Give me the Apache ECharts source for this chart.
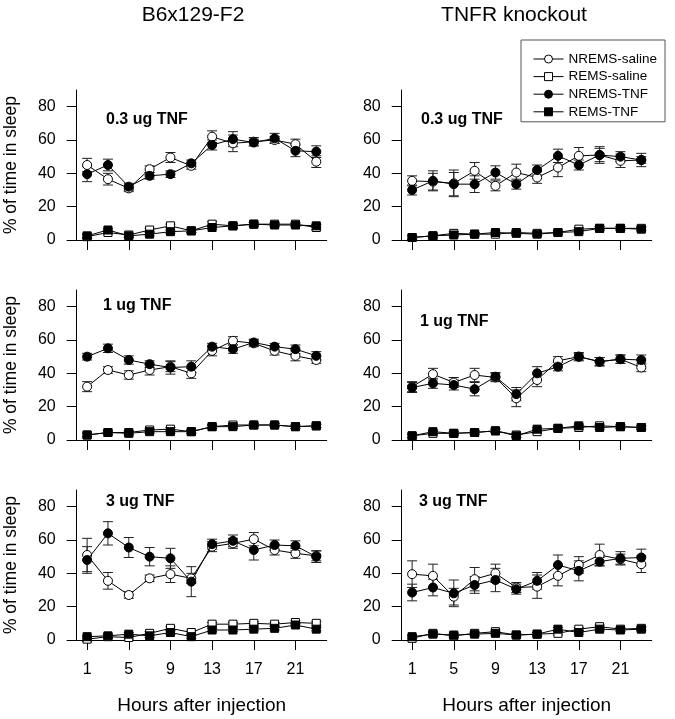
<!DOCTYPE html>
<html>
<head>
<meta charset="utf-8">
<script src="https://cdn.jsdelivr.net/npm/echarts@6/dist/echarts.min.js"></script>
<style>html,body{margin:0;padding:0;background:#fff;}#c{width:675px;height:719px;}</style>
</head>
<body>
<div id="c"></div>
<script>
// ---------- labels ----------
const hours = [1, 3, 5, 7, 9, 11, 13, 15, 17, 19, 21, 23];
const xTicks = [1, 5, 9, 13, 17, 21];
const yTicks = [0, 20, 40, 60, 80];
const seriesNames = ['NREMS-saline', 'REMS-saline', 'NREMS-TNF', 'REMS-TNF'];
const columnTitles = ['B6x129-F2', 'TNFR knockout'];
const panelLabels = ['0.3 ug TNF', '0.3 ug TNF', '1 ug TNF', '1 ug TNF', '3 ug TNF', '3 ug TNF'];
const xAxisTitle = 'Hours after injection';
const yAxisTitle = '% of time in sleep';

// ---------- Panel A: B6x129-F2, 0.3 ug ----------
const A_nremsSaline = [45, 36.5, 31, 42.5, 49.5, 44.5, 62, 58, 59, 60, 57.5, 47];
const A_nremsSalineSem = [4, 3.5, 2, 2, 3, 2, 3.5, 5, 2.5, 2, 3, 3.5];
const A_remsSaline = [2, 4.5, 3, 6, 8.5, 5.5, 9.5, 8.5, 9.5, 9.5, 9.5, 7.5];
const A_remsSalineSem = [1, 1, 1, 1, 1, 1, 1.5, 1.5, 1, 1, 1, 1.5];
const A_nremsTnf = [39.5, 45, 32, 38.5, 39.5, 46, 57, 60.5, 58.5, 61, 53.5, 53];
const A_nremsTnfSem = [4.5, 3.5, 2, 2, 2, 2, 3, 4.5, 2, 3, 3.5, 3.5];
const A_remsTnf = [2.5, 6, 2.5, 3.5, 5, 5.5, 7.5, 8.5, 9.5, 9, 9, 8.5];
const A_remsTnfSem = [1, 1, 1, 1, 1, 1, 1, 1, 1, 1, 1, 1];

// ---------- Panel B: TNFR knockout, 0.3 ug ----------
const B_nremsSaline = [35.5, 35, 34, 41.5, 32.5, 40.5, 37.5, 43.5, 50.5, 51, 47.5, 48];
const B_nremsSalineSem = [3, 5, 8, 5, 3, 5, 3.5, 5.5, 5, 4, 4, 2];
const B_remsSaline = [1.5, 2.5, 4, 3.5, 3.5, 4.5, 4, 4.5, 6.5, 7, 7, 7];
const B_remsSalineSem = [1, 1, 1, 1, 1, 1, 1, 1, 1, 1, 1, 1];
const B_nremsTnf = [30, 35.5, 33.5, 33.5, 40.5, 33.5, 42, 50.5, 45, 51, 50, 48];
const B_nremsTnfSem = [3, 6, 7, 5, 4, 3, 3, 4, 3, 5, 3, 4];
const B_remsTnf = [1.5, 2.5, 3, 3.5, 4.5, 4, 3.5, 4.5, 5, 7, 7, 6.5];
const B_remsTnfSem = [1, 1, 1, 1, 1, 1, 1, 1, 1, 1, 1, 1];

// ---------- Panel C: B6x129-F2, 1 ug ----------
const C_nremsSaline = [32, 42, 39, 42, 44, 40, 53.5, 59.5, 58, 53.5, 50.5, 48];
const C_nremsSalineSem = [3, 2, 2.5, 3, 3, 3, 3, 2.5, 2, 2.5, 3, 2];
const C_remsSaline = [3, 4.5, 4.5, 6, 6.5, 5, 8, 9, 9, 9, 8, 8.5];
const C_remsSalineSem = [1, 1, 1, 1, 1, 1, 1, 1, 1, 1, 1, 1];
const C_nremsTnf = [50, 55, 48, 45.5, 43.5, 44, 56, 54.5, 58.5, 56, 54.5, 50.5];
const C_nremsTnfSem = [2, 2.5, 2.5, 2, 4, 3.5, 2, 2.5, 2, 2, 2.5, 2.5];
const C_remsTnf = [3, 4.5, 4, 5, 5, 5, 8, 8, 9, 9, 8, 8.5];
const C_remsTnfSem = [1, 1, 1, 1, 1, 1, 1, 1, 1, 1, 1, 1];

// ---------- Panel D: TNFR knockout, 1 ug ----------
const D_nremsSaline = [32, 39.5, 34.5, 39, 37.5, 25, 36, 47.5, 50, 47, 48.5, 43.5];
const D_nremsSalineSem = [3, 3.5, 3, 4, 2.5, 5, 4, 2.5, 2, 2.5, 2.5, 2.5];
const D_remsSaline = [2.5, 4, 4, 4.5, 5.5, 3, 5, 7, 7.5, 8.5, 8, 7.5];
const D_remsSalineSem = [1, 1, 1, 1, 1, 1, 1, 1, 1, 1, 1, 1];
const D_nremsTnf = [31.5, 34, 33, 30.5, 38, 27.5, 40, 44, 50, 47, 48.5, 48];
const D_nremsTnfSem = [3, 3, 3, 4, 2.5, 4, 4, 2.5, 2.5, 2.5, 2.5, 3];
const D_remsTnf = [2.5, 5, 4, 4.5, 5.5, 2.5, 6.5, 7, 8.5, 7.5, 8, 7.5];
const D_remsTnfSem = [1, 1, 1, 1, 1, 1, 1, 1, 1, 1, 1, 1];

// ---------- Panel E: B6x129-F2, 3 ug ----------
const E_nremsSaline = [51, 35.5, 27, 37, 39.5, 37, 56, 58, 60.5, 54, 52, 50.5];
const E_nremsSalineSem = [10, 5, 2, 2, 5, 3, 3, 3, 4, 3, 3, 3];
const E_remsSaline = [0.5, 2, 1.5, 4, 7, 4.5, 9.5, 9.5, 10, 9.5, 10.5, 10];
const E_remsSalineSem = [1.5, 1, 1, 1, 1, 1, 1, 1, 1, 1, 1, 1];
const E_nremsTnf = [48, 64, 55.5, 50, 49, 35, 57.5, 59.5, 54, 57, 56.5, 50];
const E_nremsTnfSem = [8, 7, 6, 5.5, 6, 9, 3, 3.5, 6, 3, 3, 3.5];
const E_remsTnf = [2, 2.5, 3.5, 2.5, 4.5, 2, 6, 6, 6.5, 7, 9, 6.5];
const E_remsTnfSem = [1, 1, 1, 1, 1, 1, 1, 1, 1, 1, 1, 1];

// ---------- Panel F: TNFR knockout, 3 ug ----------
const F_nremsSaline = [39.5, 38.5, 26, 36.5, 40, 31.5, 32, 38.5, 45, 51, 48.5, 45.5];
const F_nremsSalineSem = [8, 7, 5, 7, 5.5, 3, 7, 6, 5, 6.5, 3, 5];
const F_remsSaline = [1, 4, 2.5, 4, 5, 3, 3.5, 4, 6.5, 8, 6.5, 7];
const F_remsSalineSem = [1.5, 1, 1, 1, 1, 1, 1, 1, 1, 1, 1, 1];
const F_nremsTnf = [28.5, 31.5, 28, 33, 36, 30.5, 35.5, 45, 41.5, 47, 49, 49.5];
const F_nremsTnfSem = [5, 5, 8, 5, 7, 3, 5, 6, 6, 2.5, 4, 5];
const F_remsTnf = [2, 3.5, 3, 3.5, 4, 3, 3.5, 6.5, 4.5, 6.5, 6, 6.5];
const F_remsTnfSem = [1, 1, 1, 1, 1, 1, 1, 1, 1, 1, 1, 1];

// ---------- build ----------
const panels = [
  { m: [A_nremsSaline, A_remsSaline, A_nremsTnf, A_remsTnf], e: [A_nremsSalineSem, A_remsSalineSem, A_nremsTnfSem, A_remsTnfSem] },
  { m: [B_nremsSaline, B_remsSaline, B_nremsTnf, B_remsTnf], e: [B_nremsSalineSem, B_remsSalineSem, B_nremsTnfSem, B_remsTnfSem] },
  { m: [C_nremsSaline, C_remsSaline, C_nremsTnf, C_remsTnf], e: [C_nremsSalineSem, C_remsSalineSem, C_nremsTnfSem, C_remsTnfSem] },
  { m: [D_nremsSaline, D_remsSaline, D_nremsTnf, D_remsTnf], e: [D_nremsSalineSem, D_remsSalineSem, D_nremsTnfSem, D_remsTnfSem] },
  { m: [E_nremsSaline, E_remsSaline, E_nremsTnf, E_remsTnf], e: [E_nremsSalineSem, E_remsSalineSem, E_nremsTnfSem, E_remsTnfSem] },
  { m: [F_nremsSaline, F_remsSaline, F_nremsTnf, F_remsTnf], e: [F_nremsSalineSem, F_remsSalineSem, F_nremsTnfSem, F_remsTnfSem] }
];

const FONT = 'Liberation Sans, Arial, Helvetica, sans-serif';
const gridLeft = [76.7, 401.7];
const labelPos = [[106, 121], [421, 121], [103, 307], [420, 323], [106, 503], [419, 503]];

const grids = [], xAxes = [], yAxes = [], series = [], graphics = [];
panels.forEach((p, i) => {
  const col = i % 2, row = Math.floor(i / 2);
  grids.push({ left: gridLeft[col], top: 90 + row * 200, width: 250, height: 150 });
  xAxes.push({
    type: 'value', gridIndex: i, min: 0, max: 24,
    axisLine: { show: true, onZero: false, lineStyle: { color: '#000', width: 1 } },
    axisTick: { show: true, customValues: xTicks, length: 10, inside: false, lineStyle: { color: '#000', width: 1 } },
    axisLabel: { show: row === 2, customValues: xTicks, margin: 22, fontSize: 16, color: '#000', fontFamily: FONT },
    splitLine: { show: false },
    name: row === 2 ? xAxisTitle : '', nameLocation: 'middle', nameGap: 56,
    nameTextStyle: { fontSize: 19, color: '#000', fontFamily: FONT }
  });
  yAxes.push({
    type: 'value', gridIndex: i, min: 0, max: 90,
    axisLine: { show: true, onZero: false, lineStyle: { color: '#000', width: 1 } },
    axisTick: { show: true, customValues: yTicks, length: 10, lineStyle: { color: '#000', width: 1 } },
    axisLabel: { show: true, customValues: yTicks, margin: 21, fontSize: 16, color: '#000', fontFamily: FONT },
    splitLine: { show: false },
    name: col === 0 ? yAxisTitle : '', nameLocation: 'middle', nameRotate: 90, nameGap: 57,
    nameTextStyle: { fontSize: 17.5, color: '#000', fontFamily: FONT }
  });
  // error bars
  const errData = [];
  p.m.forEach((arr, k) => arr.forEach((v, j) => errData.push([hours[j], v, p.e[k][j]])));
  series.push({
    type: 'custom', name: '_err' + i, xAxisIndex: i, yAxisIndex: i, silent: true, z: 1,
    encode: { x: 0, y: 1 }, data: errData, clip: false,
    renderItem: (params, api) => {
      const x = api.value(0), m = api.value(1), e = api.value(2);
      const t = api.coord([x, m + e]), b = api.coord([x, m - e]);
      const hw = 5, st = { stroke: '#222', lineWidth: 1 };
      return { type: 'group', children: [
        { type: 'line', shape: { x1: t[0], y1: t[1], x2: b[0], y2: b[1] }, style: st },
        { type: 'line', shape: { x1: t[0] - hw, y1: t[1], x2: t[0] + hw, y2: t[1] }, style: st },
        { type: 'line', shape: { x1: b[0] - hw, y1: b[1], x2: b[0] + hw, y2: b[1] }, style: st }
      ] };
    }
  });
  p.m.forEach((arr, k) => {
    const isCircle = k % 2 === 0, isOpen = k < 2;
    series.push({
      type: 'line', name: seriesNames[k], xAxisIndex: i, yAxisIndex: i, z: 3 + (isOpen ? 0 : 1),
      data: arr.map((v, j) => [hours[j], v]),
      symbol: isCircle ? 'circle' : 'rect', symbolSize: isCircle ? 9 : 8,
      itemStyle: { color: isOpen ? '#fff' : '#000', borderColor: '#000', borderWidth: 1 },
      lineStyle: { color: '#000', width: 1 },
      emphasis: { disabled: true }, silent: true
    });
  });
  graphics.push({
    type: 'text', left: labelPos[i][0], top: labelPos[i][1] - 9,
    style: { text: panelLabels[i], fontSize: 16, fontWeight: 'bold', fill: '#000', fontFamily: FONT }
  });
});
graphics.push({ type: 'text', x: 193, y: 15, style: { text: columnTitles[0], fontSize: 21, fill: '#000', fontFamily: FONT, align: 'center', verticalAlign: 'middle' } });
graphics.push({ type: 'text', x: 514, y: 15, style: { text: columnTitles[1], fontSize: 21, fill: '#000', fontFamily: FONT, align: 'center', verticalAlign: 'middle' } });

const chart = echarts.init(document.getElementById('c'), null, { renderer: 'canvas' });
chart.setOption({
  backgroundColor: '#fff',
  animation: false,
  textStyle: { fontFamily: FONT },
  grid: grids, xAxis: xAxes, yAxis: yAxes, series: series, graphic: graphics,
  legend: {
    data: seriesNames, orient: 'vertical', left: 521, top: 40,
    padding: [12, 8, 3, 12], itemGap: 3.6, itemWidth: 30, itemHeight: 10,
    borderColor: '#555', borderWidth: 1, backgroundColor: '#fff',
    lineStyle: { color: '#000', width: 1 },
    itemStyle: { borderColor: '#000', borderWidth: 1 },
    textStyle: { fontSize: 13.5, color: '#000', lineHeight: 14, fontFamily: FONT },
    selectedMode: false
  }
});
</script>
</body>
</html>
